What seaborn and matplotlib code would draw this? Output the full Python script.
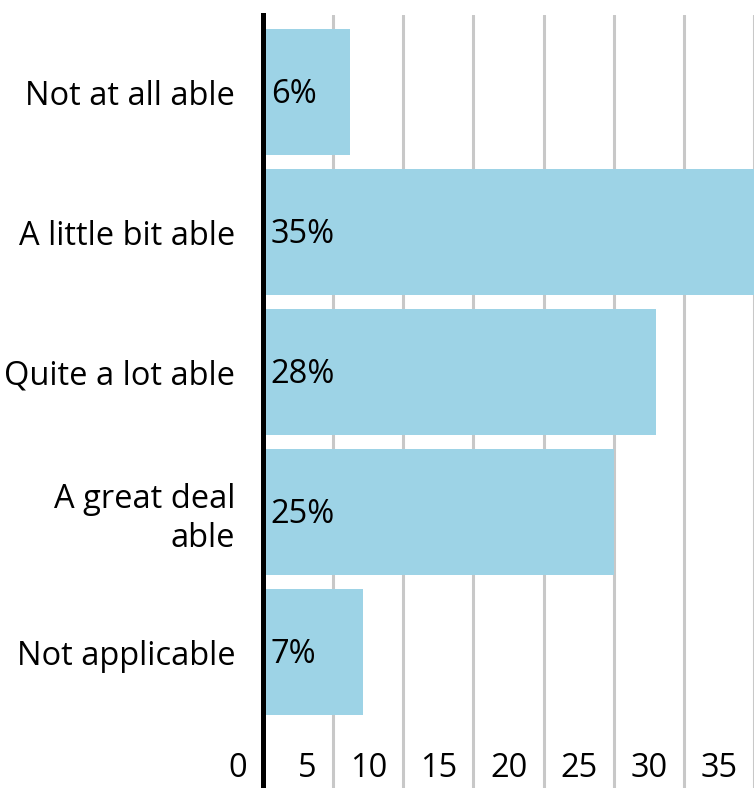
import pandas as pd
import matplotlib.pyplot as plt
import seaborn as sns

# data
categories = ['Not at all able', 'A little bit able', 'Quite a lot able',
              'A great deal\nable', 'Not applicable']
values = [6.2, 35, 28, 25, 7.1]
labels = ['6%', '35%', '28%', '25%', '7%']
xticks = [0, 5, 10, 15, 20, 25, 30, 35]

df = pd.DataFrame({'answer': categories, 'pct': values})

sns.set_style('white')
plt.rcParams['font.family'] = ['Open Sans', 'DejaVu Sans']
plt.rcParams['text.color'] = 'black'
plt.rcParams['ytick.color'] = 'black'

fig = plt.figure(figsize=(7.54, 7.88), dpi=100)
ax = fig.add_axes([263 / 754, 0, 1 - 263 / 754, 1 - 15 / 788])

# grid lines behind the bars
for t in xticks[1:]:
    ax.axvline(t, color='#c8c8c8', lw=2.2, zorder=0)

sns.barplot(data=df, y='answer', x='pct', orient='h', color='#9dd3e6',
            width=0.9, saturation=1, linewidth=0, ax=ax, zorder=2)

ax.set_xlim(0, 35)
ax.set_ylim(4.97, -0.55)
ax.set_xlabel('')
ax.set_ylabel('')
ax.set_xticks([])
ax.tick_params(axis='y', length=0, pad=20, labelsize=23.5, labelcolor='black')
for lab in ax.get_yticklabels():
    lab.set_linespacing(1.25)

for s in ['top', 'right', 'bottom']:
    ax.spines[s].set_visible(False)
ax.spines['left'].set_color('black')
ax.spines['left'].set_linewidth(3.6)
ax.spines['left'].set_zorder(5)

# value labels inside bars
for i, txt in enumerate(labels):
    ax.text(0.55, i + 0.02, txt, va='center', ha='left', fontsize=23.5,
            color='black', zorder=4)

# x tick labels drawn inside the plot, right aligned before each grid line
for t in xticks:
    ax.text(t - 1.15, 4.83, str(t), ha='right', va='center', fontsize=23.5,
            color='black', clip_on=False)

fig.savefig('out.png', dpi=100)
